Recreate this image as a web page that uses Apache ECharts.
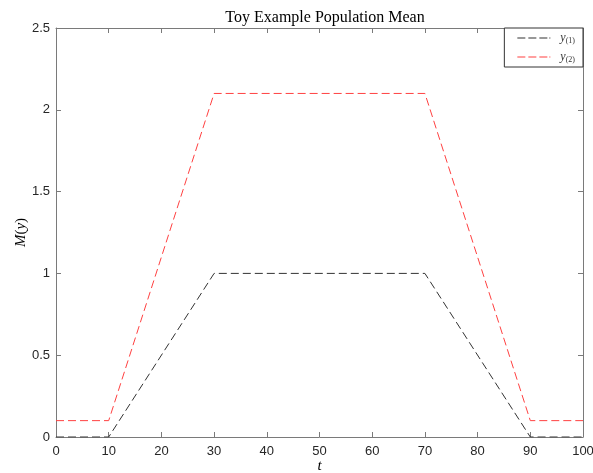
<!DOCTYPE html>
<html><head><meta charset="utf-8">
<script src="https://cdn.jsdelivr.net/npm/echarts@6/dist/echarts.min.js"></script>
<style>html,body{margin:0;padding:0;background:#fff}#c{width:593px;height:473px}</style>
</head><body><div id="c"></div>
<script>
var tValues = [0, 10, 30, 70, 90, 100];
var y1Values = [0, 0, 1, 1, 0, 0];
var y2Values = [0.1, 0.1, 2.1, 2.1, 0.1, 0.1];
var xTicks = [0, 10, 20, 30, 40, 50, 60, 70, 80, 90, 100];
var yTicks = [0, 0.5, 1, 1.5, 2, 2.5];
var seriesNames = ['y1', 'y2'];

function pairs(xs, ys) { return xs.map(function (x, i) { return [x, ys[i]]; }); }

var axisColor = '#7a7a7a';
var labelColor = '#262626';
var sansFont = 'Liberation Sans, Arial, sans-serif';
var serifFont = 'Liberation Serif, Times New Roman, serif';
var dashIcon = 'path://M0,0h8v1h-8zM11,0h8v1h-8zM22,0h8v1h-8zM32,0h1v1h-1z';

var chart = echarts.init(document.getElementById('c'));
var baseX = {
  type: 'value', min: xTicks[0], max: xTicks[xTicks.length - 1], interval: 10,
  axisLine: { show: true, onZero: false, lineStyle: { color: axisColor, width: 1 } },
  axisTick: { show: true, inside: true, length: 5, lineStyle: { color: axisColor } },
  splitLine: { show: false }
};
var baseY = {
  type: 'value', min: yTicks[0], max: yTicks[yTicks.length - 1], interval: 0.5,
  axisLine: { show: true, onZero: false, lineStyle: { color: axisColor, width: 1 } },
  axisTick: { show: true, inside: true, length: 5, lineStyle: { color: axisColor } },
  splitLine: { show: false }
};
var richLegend = {
  p: { width: 5 },
  i: { fontFamily: serifFont, fontStyle: 'italic', fontSize: 12, color: '#333' },
  s: { fontFamily: serifFont, fontSize: 8, color: '#333', verticalAlign: 'bottom', padding: [6, 0, 0, 0] }
};
chart.setOption({
  animation: false,
  title: {
    text: 'Toy Example Population Mean', left: 320, textAlign: 'center', top: 5,
    textStyle: { fontFamily: serifFont, fontSize: 16, fontWeight: 'normal', color: '#000' }
  },
  grid: { left: 56, right: 10, top: 28, bottom: 36, containLabel: false, outerBoundsMode: 'none' },
  legend: {
    orient: 'vertical', right: 10, top: 28, backgroundColor: '#fff',
    borderColor: '#333', borderWidth: 1, padding: [4, 8, 3, 13], itemGap: 6,
    itemWidth: 33, itemHeight: 1.2, icon: dashIcon,
    data: seriesNames,
    formatter: function (name) { return '{p|}{i|y}{s|(' + name.slice(1) + ')}'; },
    textStyle: { rich: richLegend }
  },
  xAxis: [
    Object.assign({}, baseX, {
      position: 'bottom',
      name: 't', nameLocation: 'middle', nameGap: 22, nameMoveOverlap: false,
      nameTextStyle: { fontFamily: serifFont, fontStyle: 'italic', fontSize: 15, color: '#000' },
      axisLabel: { fontFamily: sansFont, fontSize: 13, color: labelColor, margin: 8 }
    }),
    Object.assign({}, baseX, { position: 'top', axisLabel: { show: false } })
  ],
  yAxis: [
    Object.assign({}, baseY, {
      position: 'left',
      name: '{i|M}{n|(}{i|y}{n|)}', nameLocation: 'middle', nameGap: 27, nameMoveOverlap: false,
      nameTextStyle: {
        rich: {
          i: { fontFamily: serifFont, fontStyle: 'italic', fontSize: 15, color: '#000' },
          n: { fontFamily: serifFont, fontSize: 15, color: '#000' }
        }
      },
      axisLabel: { fontFamily: sansFont, fontSize: 13, color: labelColor, margin: 6,
        formatter: function (v) { return String(v); } }
    }),
    Object.assign({}, baseY, { position: 'right', axisLabel: { show: false } })
  ],
  series: [
    { name: seriesNames[0], type: 'line', data: pairs(tValues, y1Values), symbol: 'none',
      lineStyle: { color: '#333333', width: 1, type: [8, 4] }, itemStyle: { color: '#333333' } },
    { name: seriesNames[1], type: 'line', data: pairs(tValues, y2Values), symbol: 'none',
      lineStyle: { color: '#ff4040', width: 1, type: [8, 4] }, itemStyle: { color: '#ff4040' } }
  ]
});
</script>
</body></html>
